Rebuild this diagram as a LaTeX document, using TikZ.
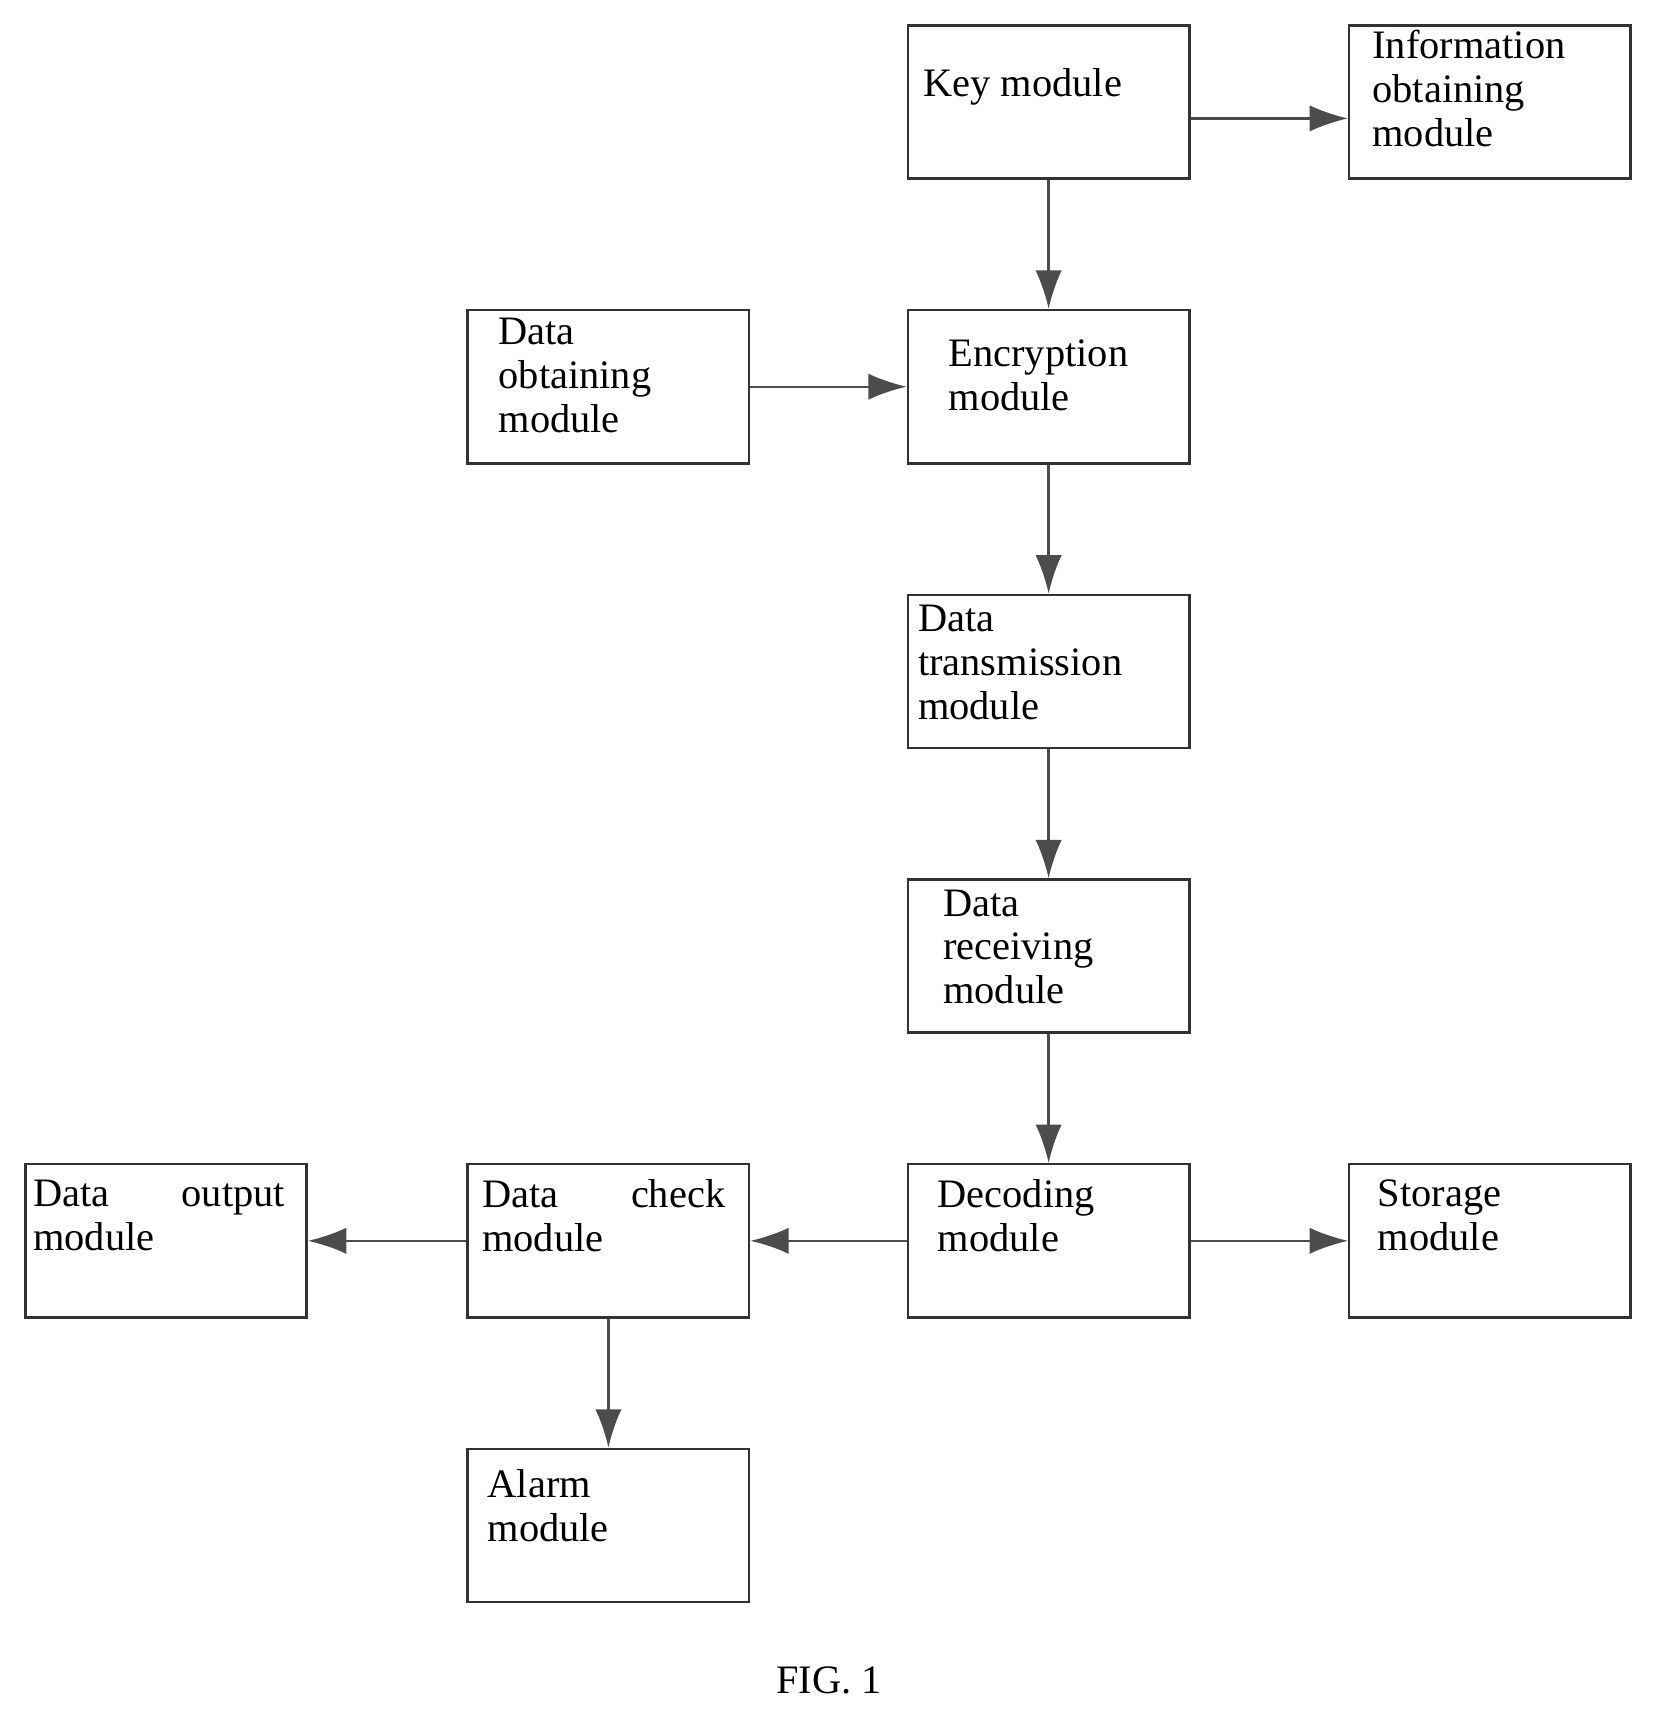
\documentclass[tikz,border=0pt]{standalone}
\usepackage{fontspec}
\setmainfont{Liberation Serif}
\usetikzlibrary{arrows.meta}
\begin{document}
\begin{tikzpicture}[x=0.02cm,y=-0.02cm,
 box/.style={draw=black!80,line width=1.3pt,minimum width=5.14cm,minimum height=2.8cm,inner sep=0,anchor=north west},
 txt/.style={anchor=north west,inner sep=0,align=left,font=\fontsize{21}{22.8}\selectfont},
 arr/.style={draw=black!70,line width=1.2pt,-{Latex[length=0.7cm,width=0.48cm]}}]
\useasboundingbox (0,0) rectangle (1510,1568);
\node[box] (key) at (828,22) {};
\node[box] (info) at (1231,22) {};
\node[box] (dob) at (426,282) {};
\node[box] (enc) at (828,282) {};
\node[box] (tra) at (828,542) {};
\node[box] (rec) at (828,802) {};
\node[box] (dec) at (828,1062) {};
\node[box] (sto) at (1231,1062) {};
\node[box] (chk) at (426,1062) {};
\node[box] (out) at (22,1062) {};
\node[box] (ala) at (426,1322) {};
\node[txt] (t1) at (843,62) {Key module};
\node[txt] (t2) at (1253,27) {Information\\obtaining\\module};
\node[txt] (t3) at (455,290) {Data\\obtaining\\module};
\node[txt] (t4) at (866,310) {Encryption\\module};
\node[txt] (t5) at (838,552) {Data\\transmission\\module};
\node[txt] (t6) at (861,812) {Data\\receiving\\module};
\node[txt] (t7) at (856,1077) {Decoding\\module};
\node[txt] (t8) at (1258,1077) {Storage\\module};
\node[txt,text width=4.44cm] (t9) at (440,1077) {Data \hfill check\\module};
\node[txt,text width=4.6cm] (t10) at (30,1077) {Data \hfill output\\module};
\node[txt] (t11) at (445,1342) {Alarm\\module};
\node[inner sep=0,font=\fontsize{21}{22.8}\selectfont] (fig) at (757,1535) {FIG. 1};
\draw[arr] (key.south) -- (enc.north);
\draw[arr] ([yshift=-0.3cm]key.east) -- ([yshift=-0.3cm]info.west);
\draw[arr] (dob.east) -- (enc.west);
\draw[arr] (enc.south) -- (tra.north);
\draw[arr] (tra.south) -- (rec.north);
\draw[arr] (rec.south) -- (dec.north);
\draw[arr] (dec.east) -- (sto.west);
\draw[arr] (dec.west) -- (chk.east);
\draw[arr] (chk.west) -- (out.east);
\draw[arr] (chk.south) -- (ala.north);
\end{tikzpicture}
\end{document}
